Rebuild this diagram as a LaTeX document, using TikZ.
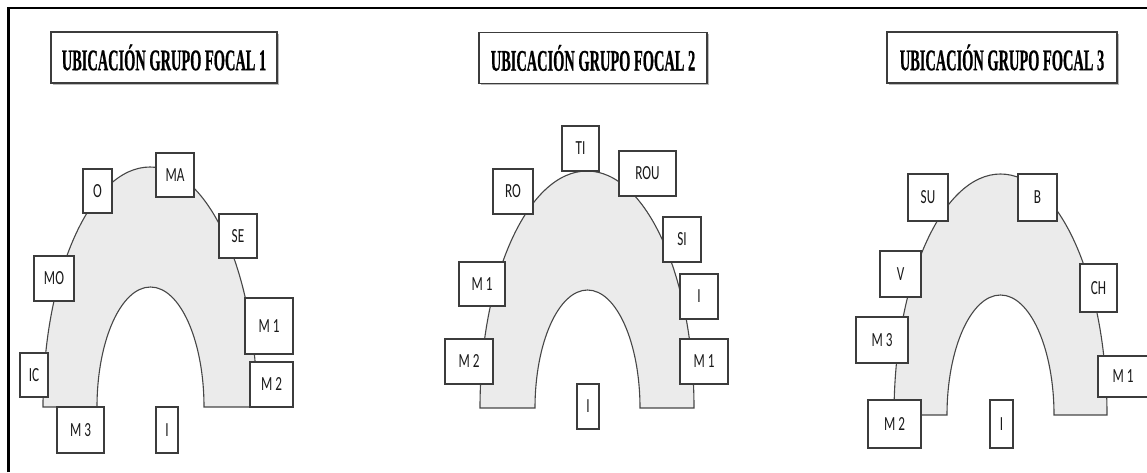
\documentclass[tikz,border=0pt]{standalone}
\usepackage{fontspec}
\usetikzlibrary{shadows}
\newfontfamily\titlefont[FakeStretch=0.48,BoldFeatures={FakeBold=0.6}]{Liberation Serif}
\newfontfamily\labfont[FakeStretch=0.66]{Carlito}
\definecolor{archgray}{HTML}{EBEBEB}
\definecolor{edgegray}{HTML}{464646}
\definecolor{boxedge}{HTML}{3C3C3C}
\tikzset{
  titlebox/.style={draw=boxedge, line width=1.3pt, fill=white, inner sep=0pt,
    minimum height=51pt, font=\titlefont\bfseries\fontsize{30}{30}\selectfont,
    drop shadow={shadow xshift=1.6pt, shadow yshift=-1.6pt, fill=black!45, opacity=0.6}},
  lab/.style={draw=boxedge, line width=1.2pt, fill=white, inner sep=0pt,
    text=black!90, font=\labfont\fontsize{20}{20}\selectfont,
    drop shadow={shadow xshift=0.8pt, shadow yshift=-0.8pt, fill=black!40, opacity=0.5}},
  arch/.style={fill=archgray, draw=edgegray, line width=1.1pt},
  frame/.style={line width=2.6pt, black}
}
\begin{document}
\begin{tikzpicture}[x=1pt,y=-1pt]
\useasboundingbox (0,0) rectangle (1147,472);
\draw[frame] (8.5,472) -- (8.5,8) coordinate (fc) -- (1147,8);

% ---------- Panel 1 ----------
\node[titlebox, minimum width=226pt] (t1) at (164,57.5) {UBICACIÓN GRUPO FOCAL 1};
\draw[arch] (43,407) arc[start angle=180, end angle=360, x radius=107, y radius=240]
  -- (204,407) arc[start angle=0, end angle=-180, x radius=53.5, y radius=120] -- cycle;
\node[lab, minimum width=29pt, minimum height=44pt] (o1) at (97.5,191) {O};
\node[lab, minimum width=38pt, minimum height=44pt] (ma1) at (175,175) {MA};
\node[lab, minimum width=38pt, minimum height=44pt] (se1) at (238,236) {SE};
\node[lab, minimum width=40pt, minimum height=45pt] (mo1) at (54,278.5) {MO};
\node[lab, minimum width=48pt, minimum height=56pt] (ma11) at (269,326) {M 1};
\node[lab, minimum width=43pt, minimum height=45pt] (m21) at (271.5,384.5) {M 2};
\node[lab, minimum width=28pt, minimum height=44pt] (ic1) at (34,375) {IC};
\node[lab, minimum width=47pt, minimum height=46pt] (m31) at (80.5,430) {M 3};
\node[lab, minimum width=22pt, minimum height=46pt] (i1) at (167,430) {I};

% ---------- Panel 2 ----------
\node[titlebox, minimum width=228pt] (t2) at (593,58) {UBICACIÓN GRUPO FOCAL 2};
\draw[arch] (480,408) arc[start angle=180, end angle=360, x radius=107, y radius=237]
  -- (640,408) arc[start angle=0, end angle=-180, x radius=52.5, y radius=118] -- cycle;
\node[lab, minimum width=37pt, minimum height=45pt] (ti2) at (580.5,148.5) {TI};
\node[lab, minimum width=57pt, minimum height=45pt] (rou2) at (647.5,173.5) {ROU};
\node[lab, minimum width=40pt, minimum height=45pt] (ro2) at (513,191.5) {RO};
\node[lab, minimum width=38pt, minimum height=45pt] (si2) at (682,239.5) {SI};
\node[lab, minimum width=38pt, minimum height=45pt] (ir2) at (699,296.5) {I};
\node[lab, minimum width=46pt, minimum height=44pt] (m1l2) at (482,284) {M 1};
\node[lab, minimum width=48pt, minimum height=45pt] (m22) at (469,361.5) {M 2};
\node[lab, minimum width=48pt, minimum height=45pt] (m1r2) at (704,361.5) {M 1};
\node[lab, minimum width=22pt, minimum height=45pt] (ib2) at (588,406.5) {I};

% ---------- Panel 3 ----------
\node[titlebox, minimum width=230pt] (t3) at (1002,57.5) {UBICACIÓN GRUPO FOCAL 3};
\draw[arch] (894,415) arc[start angle=180, end angle=360, x radius=106.5, y radius=241]
  -- (1054,415) arc[start angle=0, end angle=-180, x radius=53.5, y radius=120] -- cycle;
\node[lab, minimum width=40pt, minimum height=47pt] (su3) at (928,197.5) {SU};
\node[lab, minimum width=39pt, minimum height=47pt] (b3) at (1037.5,197.5) {B};
\node[lab, minimum width=41pt, minimum height=46pt] (v3) at (900.5,274) {V};
\node[lab, minimum width=37pt, minimum height=48pt] (ch3) at (1098.5,288) {CH};
\node[lab, minimum width=52pt, minimum height=46pt] (m33) at (882,340) {M 3};
\node[lab, minimum width=50pt, minimum height=41pt] (m13) at (1123,376.5) {M 1};
\node[lab, minimum width=53pt, minimum height=48pt] (m23) at (894.5,424) {M 2};
\node[lab, minimum width=23pt, minimum height=48pt] (i3) at (1001.5,424) {I};
\end{tikzpicture}
\end{document}
